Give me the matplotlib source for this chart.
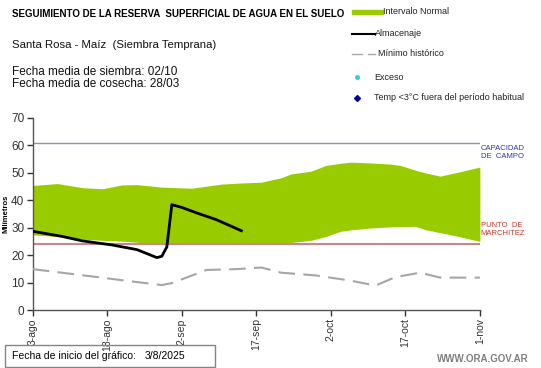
import matplotlib
matplotlib.use('Agg')
import matplotlib.pyplot as plt
from matplotlib.patches import Rectangle
from matplotlib.lines import Line2D

plt.rcParams['font.family'] = ['Liberation Sans', 'DejaVu Sans']

# days since start of chart (3-ago-2025)
tick_days = [0, 15, 30, 45, 60, 75, 90]
tick_labels = ['3-ago', '18-ago', '2-sep', '17-sep', '2-oct', '17-oct', '1-nov']

band_days = [0, 5, 10, 14, 18, 21, 26, 32, 38, 42, 46, 50, 52, 56, 59, 62, 64, 68,
             72, 74, 77, 79, 82, 85, 90]
band_upper = [45.4, 46.1, 44.6, 44.2, 45.6, 45.7, 44.8, 44.4, 45.9, 46.3, 46.6, 48.2,
              49.6, 50.6, 52.7, 53.5, 53.9, 53.6, 53.2, 52.7, 51.0, 50.0, 48.8, 50.0, 52.1]
band_lower = [27.4, 26.8, 25.8, 25.4, 25.1, 24.7, 23.8, 23.9, 24.3, 24.5, 24.6, 24.5,
              24.6, 25.4, 26.8, 28.7, 29.2, 29.9, 30.3, 30.4, 30.5, 29.3, 28.2, 27.1, 25.0]

alm_days = [0, 6, 10, 16, 21, 25, 26, 27, 28, 30, 33, 37, 42]
alm_vals = [28.7, 26.8, 25.2, 23.7, 22.0, 19.1, 19.6, 23.0, 38.4, 37.4, 35.4, 32.9, 28.9]

min_days = [0, 13, 20, 26, 28, 35, 41, 46, 50, 57, 64, 69, 73, 78, 82, 90]
min_vals = [14.9, 12.0, 10.4, 9.1, 9.8, 14.6, 14.9, 15.5, 13.6, 12.6, 10.7, 8.9,
            12.0, 13.6, 11.8, 11.8]

cap_campo = 61
punto_march = 24

fig = plt.figure(figsize=(5.41, 3.68), dpi=100)
ax = fig.add_axes([0.0604, 0.1576, 0.8266, 0.5218])

ax.fill_between(band_days, band_lower, band_upper, color='#99cc00', lw=0, zorder=1)
ax.axhline(cap_campo, color='#8496b0', lw=1, zorder=2)
ax.axhline(punto_march, color='#c9868e', lw=1.5, zorder=2)
ax.plot(min_days, min_vals, color='#a6a6a6', lw=1.5, dashes=(8, 4), zorder=3)
ax.plot(alm_days, alm_vals, color='black', lw=2, zorder=4)

ax.set_xlim(0, 90)
ax.set_ylim(0, 70)
ax.set_yticks(range(0, 71, 10))
ax.set_xticks(tick_days)
ax.set_xticklabels(tick_labels, rotation=90)
ax.tick_params(colors='#333333', length=4, width=1)
ax.tick_params(axis='y', labelsize=8.5, pad=2)
ax.tick_params(axis='x', labelsize=7.5, pad=2)
for s in ['top', 'right']:
    ax.spines[s].set_visible(False)
for s in ['left', 'bottom']:
    ax.spines[s].set_color('#555555')
    ax.spines[s].set_linewidth(1)
ax.set_ylabel('Milímetros', fontsize=5.5, fontweight='bold')
ax.yaxis.set_label_coords(-0.052, 0.5)

ax.text(1.002, cap_campo - 1, 'CAPACIDAD\nDE  CAMPO', transform=ax.get_yaxis_transform(),
        fontsize=5.5, color='#3333aa', va='top', ha='left', linespacing=1.2)
ax.text(1.002, punto_march + 8, 'PUNTO  DE\nMARCHITEZ', transform=ax.get_yaxis_transform(),
        fontsize=5.5, color='#c0392b', va='top', ha='left', linespacing=1.2)

# header texts
fig.text(12 / 541, 1 - 14 / 368, 'SEGUIMIENTO DE LA RESERVA  SUPERFICIAL DE AGUA EN EL SUELO',
         fontsize=7, fontweight='bold', va='center', ha='left')
fig.text(12 / 541, 1 - 45 / 368, 'Santa Rosa - Maíz  (Siembra Temprana)',
         fontsize=8.2, va='center', ha='left', color='#111111')
fig.text(12 / 541, 1 - 72 / 368, 'Fecha media de siembra: 02/10',
         fontsize=8.5, va='center', ha='left', color='#111111')
fig.text(12 / 541, 1 - 84 / 368, 'Fecha media de cosecha: 28/03',
         fontsize=8.5, va='center', ha='left', color='#111111')

# legend, drawn manually
def fx(px):
    return px / 541

def fy(py):
    return 1 - py / 368

fig.patches.append(Rectangle((fx(352), fy(14)), fx(31), 4 / 368, color='#99cc00',
                             transform=fig.transFigure, figure=fig))
fig.lines.append(Line2D([fx(352), fx(375)], [fy(34), fy(34)], color='black', lw=1.5,
                        transform=fig.transFigure, figure=fig))
fig.lines.append(Line2D([fx(352), fx(362)], [fy(54), fy(54)], color='#a6a6a6', lw=1,
                        transform=fig.transFigure, figure=fig))
fig.lines.append(Line2D([fx(368), fx(375)], [fy(54), fy(54)], color='#a6a6a6', lw=1,
                        transform=fig.transFigure, figure=fig))
fig.lines.append(Line2D([fx(357)], [fy(77)], marker='o', ms=2.5, color='#33cccc', lw=0,
                        transform=fig.transFigure, figure=fig))
fig.lines.append(Line2D([fx(357)], [fy(98)], marker='D', ms=3, color='#000099', lw=0,
                        transform=fig.transFigure, figure=fig))
leg_items = [('Intervalo Normal', 383, 12), ('Almacenaje', 375, 34),
             ('Mínimo histórico', 378, 54), ('Exceso', 374, 77),
             ('Temp <3°C fuera del período habitual', 374, 98)]
for txt, px, py in leg_items:
    fig.text(fx(px), fy(py), txt, fontsize=6.5, va='center', ha='left', color='#222222')

# footer
fig.patches.append(Rectangle((fx(5), fy(367)), fx(210), 22 / 368, fill=False,
                             edgecolor='#8c8080', lw=1, transform=fig.transFigure, figure=fig))
fig.text(fx(12), fy(356), 'Fecha de inicio del gráfico:', fontsize=7.5,
         va='center', ha='left')
fig.text(fx(145), fy(356), '3/8/2025', fontsize=7.5, va='center', ha='left')
fig.text(fx(529), fy(359), 'WWW.ORA.GOV.AR', fontsize=7, fontweight='bold', color='#7f7f7f',
         va='center', ha='right')

fig.savefig('out.png', dpi=100)
